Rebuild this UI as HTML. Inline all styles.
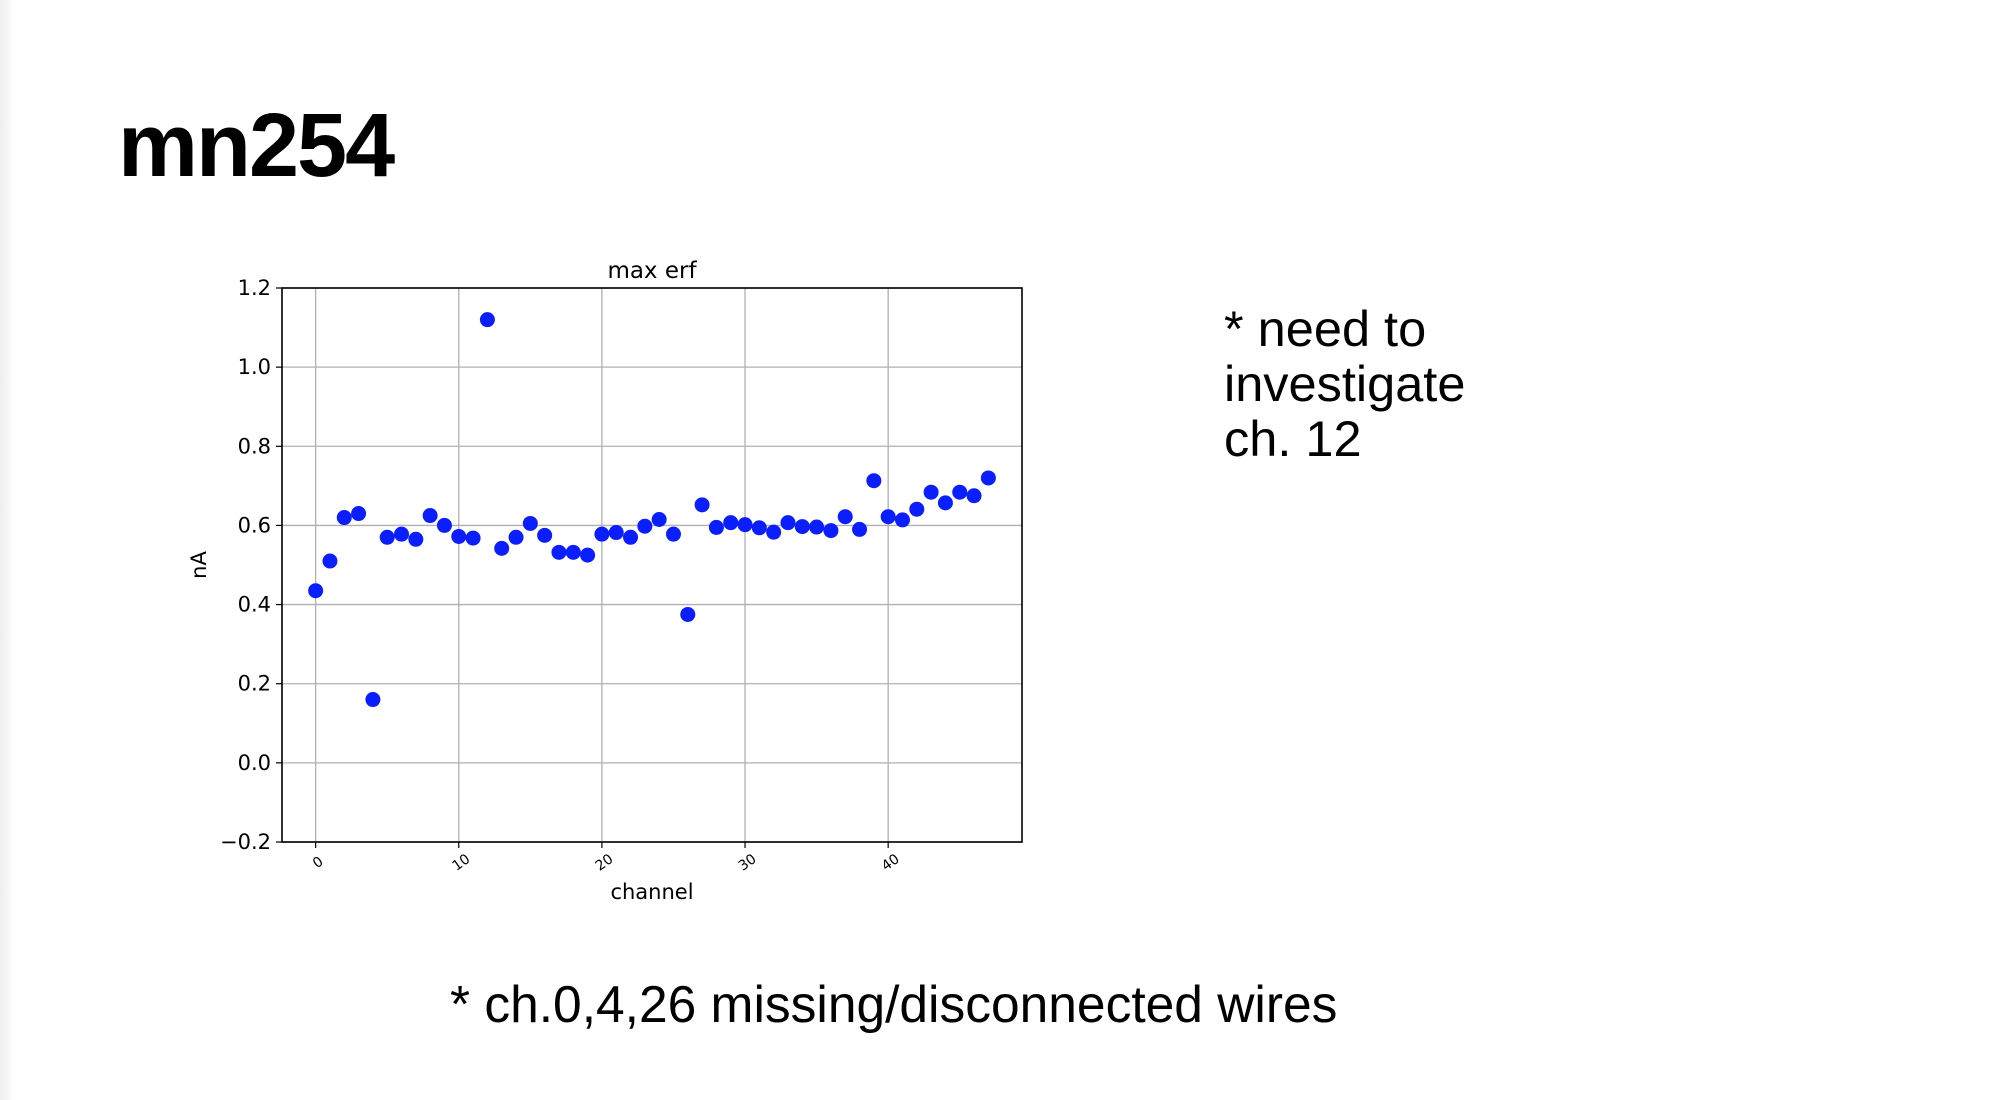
<!DOCTYPE html>
<html><head><meta charset="utf-8"><style>
html,body{margin:0;padding:0;background:#fff;}
body{width:2012px;height:1100px;position:relative;overflow:hidden;font-family:"Liberation Sans",Arial,sans-serif;}
#shadow{position:absolute;left:0;top:0;width:13px;height:1100px;background:linear-gradient(to right,#efefef,#f7f7f7 70%,#fff);}
#title{position:absolute;left:118px;top:101px;font-size:90px;font-weight:bold;letter-spacing:-2px;line-height:1;color:#000;}
#note{position:absolute;left:1224px;top:301px;font-size:50.5px;line-height:55px;color:#000;}
#foot{position:absolute;left:450px;top:977px;font-size:51.5px;line-height:55px;color:#000;}
svg{position:absolute;left:0;top:0;}
</style></head><body>
<div id="shadow"></div>
<div id="title">mn254</div>
<div id="note">* need to<br>investigate<br>ch. 12</div>
<div id="foot">* ch.0,4,26 missing/disconnected wires</div>
<svg id="chart" width="2012" height="1100"></svg>
<script>
const channels = [];
for (let i = 0; i < 48; i++) channels.push(i);
const values = [0.435,0.51,0.62,0.63,0.16,0.57,0.578,0.565,0.625,0.60,0.572,0.568,1.12,0.542,0.57,0.605,0.575,0.532,0.532,0.525,0.578,0.582,0.57,0.598,0.615,0.578,0.375,0.652,0.595,0.607,0.602,0.594,0.583,0.607,0.597,0.596,0.587,0.622,0.59,0.713,0.622,0.614,0.641,0.684,0.657,0.684,0.675,0.72];
const yTicks = [-0.2,0,0.2,0.4,0.6,0.8,1.0,1.2];
const yTickLabels = ["\u22120.2","0.0","0.2","0.4","0.6","0.8","1.0","1.2"];
const xTicks = [0,10,20,30,40];
const xTickLabels = ["0","10","20","30","40"];

const L=282,R=1022,T=288,B=842;
const xMin=-2.35,xMax=49.35,yMin=-0.2,yMax=1.2;
const xs=v=>L+(v-xMin)/(xMax-xMin)*(R-L);
const ys=v=>B-(v-yMin)/(yMax-yMin)*(B-T);
const svg=document.getElementById('chart');
const NS='http://www.w3.org/2000/svg';
function mk(tag,attrs,parent){const e=document.createElementNS(NS,tag);for(const k in attrs)e.setAttribute(k,attrs[k]);(parent||svg).appendChild(e);return e;}
const font='"DejaVu Sans","Liberation Sans",sans-serif';

xTicks.forEach((t,i)=>{
  const g=mk('line',{x1:xs(t),x2:xs(t),y1:T,y2:B,stroke:'#b0b0b0','stroke-width':1.3});
  
  
  const tk=mk('line',{x1:xs(t),x2:xs(t),y1:B,y2:B+6,stroke:'#000','stroke-width':1.2});
  
  
  const tx=mk('text',{x:xs(t)+2,y:B+25,'font-size':14,'font-family':font,'text-anchor':'middle',transform:`rotate(-35 ${xs(t)+2} ${B+20})`});
  tx.textContent=xTickLabels[i];
  
  
});
yTicks.forEach((t,i)=>{
  const g=mk('line',{x1:L,x2:R,y1:ys(t),y2:ys(t),stroke:'#b0b0b0','stroke-width':1.3});
  
  
  const tk=mk('line',{x1:L-6,x2:L,y1:ys(t),y2:ys(t),stroke:'#000','stroke-width':1.2});
  
  
  const tx=mk('text',{x:L-11,y:ys(t)+7,'font-size':21,'font-family':font,'text-anchor':'end'});
  tx.textContent=yTickLabels[i];
  
  
});
const frame=mk('rect',{x:L,y:T,width:R-L,height:B-T,fill:'none',stroke:'#000','stroke-width':1.6});



channels.forEach((c,i)=>{
  const p=mk('circle',{cx:xs(c),cy:ys(values[i]),r:7.5,fill:'#0a1eff'});
  
  
});

const ti=mk('text',{x:(L+R)/2,y:T-10,'font-size':23,'font-family':font,'text-anchor':'middle'});
ti.textContent='max erf';


const xl=mk('text',{x:(L+R)/2,y:B+57,'font-size':21,'font-family':font,'text-anchor':'middle'});
xl.textContent='channel';


const yl=mk('text',{x:206,y:(T+B)/2,'font-size':21,'font-family':font,'text-anchor':'middle',transform:`rotate(-90 206 ${(T+B)/2})`});
yl.textContent='nA';


</script>
</body></html>
